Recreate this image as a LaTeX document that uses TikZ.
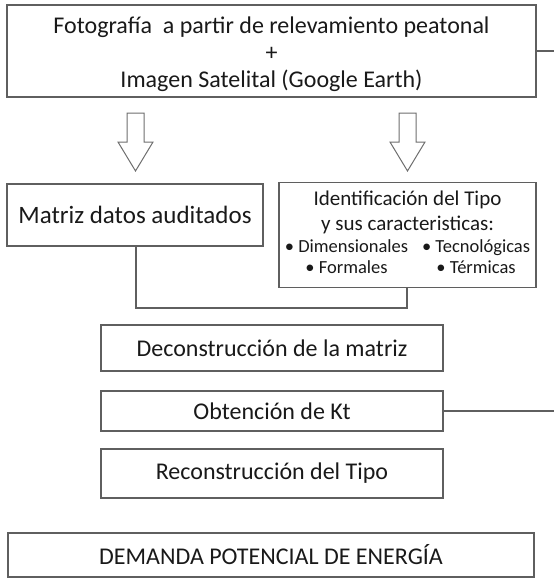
\documentclass[tikz,border=0pt]{standalone}
\usepackage{fontspec}
\setmainfont{Carlito}
\begin{document}
\begin{tikzpicture}[x=1pt,y=-1pt,
  line col/.style={draw={rgb,255:red,95;green,95;blue,95}, line width=1.3pt},
  boxnode/.style={line col, rectangle, inner sep=0pt, align=center, text={rgb,255:red,25;green,25;blue,25}, font=\fontsize{24}{28}\selectfont},
  textonly/.style={inner sep=0pt, align=center, text={rgb,255:red,25;green,25;blue,25}, font=\fontsize{24}{27}\selectfont},
  conn/.style={line col},
  blockarrow/.style={draw={rgb,255:red,110;green,110;blue,110}, line width=1pt, fill=white}]
\useasboundingbox (0,0) rectangle (554,578);

\node[boxnode, minimum width=529pt, minimum height=92pt] (top) at (271.5,51) {};
\node[textonly] (toptext) at ([yshift=-3pt]top.center)
  {Fotografía\ \ a partir de relevamiento peatonal\\+\\Imagen Satelital (Google Earth)};
\coordinate (topend) at (554,51);
\draw[conn] (top.east) -- (topend);

% hollow block arrows
\coordinate (la) at (135.5,113);
\coordinate (ra) at (407.5,113);
\foreach \c in {la,ra}{
  \draw[blockarrow] ([xshift=-8.5pt]\c) -- ([xshift=8.5pt]\c) -- ([xshift=8.5pt,yshift=-29pt]\c)
    -- ([xshift=17.5pt,yshift=-29pt]\c) -- ([yshift=-58pt]\c) -- ([xshift=-17.5pt,yshift=-29pt]\c)
    -- ([xshift=-8.5pt,yshift=-29pt]\c) -- cycle;
}

\node[boxnode, minimum width=256pt, minimum height=62pt, font=\fontsize{25}{30}\selectfont] (matriz) at (135,215) {Matriz datos auditados};

\node[boxnode, minimum width=257pt, minimum height=105pt, font=\fontsize{21}{25}\selectfont] (ident) at (407.5,235)
  {Identificación del Tipo\\y sus caracteristicas:\\[3pt]
   {\fontsize{18.5}{21}\selectfont\begin{tabular}{@{}c@{\hspace{14pt}}c@{}}
   • Dimensionales & • Tecnológicas\\
   • Formales & • Térmicas
   \end{tabular}}};

\coordinate (jl) at (136,308);
\coordinate (jr) at (407,308);
\draw[conn] (matriz.south -| jl) -- (jl) -- (jr) -- (ident.south -| jr);

\node[boxnode, minimum width=342pt, minimum height=46pt] (decon) at (272,348) {Deconstrucción de la matriz};
\node[boxnode, minimum width=342pt, minimum height=40pt] (kt) at (272,411) {Obtención de Kt};
\coordinate (ktend) at (554,411);
\draw[conn] (kt.east) -- (ktend);
\node[boxnode, minimum width=342pt, minimum height=49pt] (recon) at (272,473.5) {Reconstrucción del Tipo};
\node[boxnode, minimum width=526pt, minimum height=44pt] (dem) at (271,555) {DEMANDA POTENCIAL DE ENERGÍA};
\end{tikzpicture}
\end{document}
